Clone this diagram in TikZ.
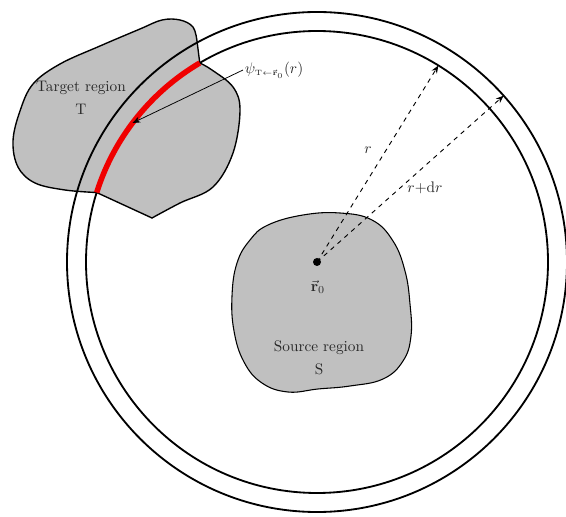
\documentclass[tikz,border=0pt]{standalone}
\usepackage{amsmath}
\usetikzlibrary{arrows.meta,calc}
\definecolor{shade}{RGB}{192,192,192}
\definecolor{ink}{RGB}{40,40,40}
\definecolor{hot}{RGB}{240,0,0}
\tikzset{
  region/.style={draw=black, fill=shade, line width=0.9pt},
  ring/.style={draw=black, line width=1.2pt},
  hit/.style={draw=hot, line width=3.6pt},
  radline/.style={dashed, draw=black, line width=0.6pt, -{Stealth[length=1.8mm, width=1.4mm]}},
  pointer/.style={draw=black, line width=0.5pt, -{Stealth[length=1.8mm, width=1.4mm]}},
  tag/.style={text=ink, align=center, inner sep=1pt},
}
\begin{document}
\begin{tikzpicture}[x=0.023cm, y=0.023cm]
\useasboundingbox (0,0) rectangle (566,516);
% --- target region (drawn first, the shells run across it)
\coordinate (c) at (317,254);
\coordinate (ta) at ($(c)+(120.5:231)$);
\coordinate (tb) at ($(c)+(162.5:231)$);
\draw[region] (ta) -- plot[smooth, tension=0.6] coordinates {(197,475) (193,489) (180,496) (162,496) (140,487) (100,470) (60,452) (33,432) (20,405) (13,375) (18,349) (35,333) (65,326) (tb)}
  -- (152,298) -- plot[smooth, tension=0.6] coordinates {(152,298) (180,313) (213,329) (233,363) (240,406) (233,429) (212,446) (ta)} -- cycle;
% --- shells r and r+dr
\draw[ring] (c) circle[radius=250];
\draw[ring] (c) circle[radius=231];
\draw[hit] (ta) arc[start angle=120.5, end angle=162.5, radius=231];
% --- source region
\draw[region, line width=0.7pt] plot[smooth cycle, tension=0.7] coordinates {(268,291) (303,301) (340,303) (372,296) (393,275) (405,245) (410,212) (411,180) (403,155) (383,137) (350,130) (318,127) (288,124) (262,133) (244,154) (234,185) (232,220) (237,253) (250,276)};
\fill (c) circle[radius=4];
\node[tag] (r0) at (318,229) {$\vec{\mathbf r}_0$};
\node[tag] (src) at (319,158) {Source region\\[3pt]S};
\node[tag] (tgt) at (81,418) {Target region\\[3pt]T};
% --- radii
\coordinate (ri) at ($(c)+(58.3:231)$);
\coordinate (ro) at ($(c)+(41.7:250)$);
\draw[radline] (c) -- (ri);
\draw[radline] (c) -- (ro);
\node[tag] (rlab) at (368,366) {$r$};
\node[tag] (drlab) at (425,328) {$r{+}\mathrm{d}r$};
% --- flux label
\node[tag, anchor=west] (psi) at (243,446) {$\psi_{\scriptscriptstyle\mathrm{T}\leftarrow\vec{\mathbf r}_0}(r)$};
\coordinate (hitpt) at ($(c)+(143:231)$);
\draw[pointer] (psi.west) -- (hitpt);
\end{tikzpicture}
\end{document}
